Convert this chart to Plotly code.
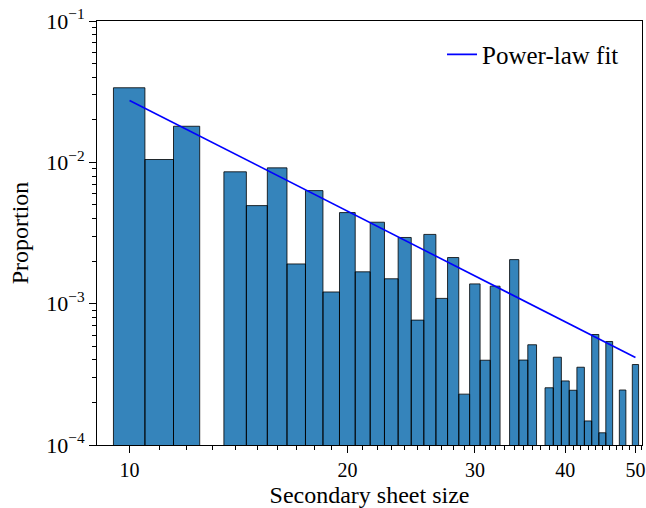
import plotly.graph_objects as go

# Histogram data (one bin per integer sheet size)
sizes = list(range(10, 51))
proportions = [
    0.0337, 0.01047, 0.0180, 0.0, 0.00857, 0.00494, 0.00914, 0.00191, 0.00631, 0.00121,
    0.00441, 0.00168, 0.00377, 0.00150, 0.00294, 0.000765, 0.00309, 0.00109, 0.00212, 0.000229,
    0.00138, 0.000398, 0.00133, 0.0, 0.00205, 0.000399, 0.000512, 0.0, 0.000254, 0.000418,
    0.000284, 0.000244, 0.000355, 0.000148, 0.000605, 0.000122, 0.000540, 0.0, 0.000245, 0.0,
    0.000371,
]

# Power-law fit endpoints
fit_x = [10, 50]
fit_y = [0.0274, 0.000416]

x_major = [10, 20, 30, 40, 50]
x_major_labels = ["10", "20", "30", "40", "50"]
y_major = [1e-4, 1e-3, 1e-2, 1e-1]
y_major_labels = ["10<sup>−4</sup>", "10<sup>−3</sup>", "10<sup>−2</sup>", "10<sup>−1</sup>"]

FONT = "Liberation Serif, DejaVu Serif, serif"
BAR_FILL = "rgba(31,119,180,0.9)"
BAR_EDGE = "rgba(0,0,0,0.8)"
FLOOR = 1e-6

# build bar polygons from bin edges (size +/- 0.5)
bx, by = [], []
for s, p in zip(sizes, proportions):
    if p <= 0:
        continue
    lo, hi = s - 0.5, s + 0.5
    bx += [lo, lo, hi, hi, lo, None]
    by += [FLOOR, p, p, FLOOR, FLOOR, None]

fig = go.Figure()
fig.add_trace(go.Scatter(
    x=bx, y=by, mode="lines", fill="toself", fillcolor=BAR_FILL,
    line=dict(color=BAR_EDGE, width=1), showlegend=False, hoverinfo="skip",
))
fig.add_trace(go.Scatter(
    x=fit_x, y=fit_y, mode="lines", name="Power-law fit",
    line=dict(color="#0000ff", width=1.6),
))

minor_x = [v for v in range(9, 52) if v not in x_major]
minor_y = [m * 10 ** e for e in (-4, -3, -2) for m in range(2, 10)]

fig.update_layout(
    width=646, height=508,
    margin=dict(l=97, r=4, t=21, b=63),
    paper_bgcolor="white", plot_bgcolor="white",
    font=dict(family=FONT, size=20, color="#000"),
    legend=dict(x=0.967, y=0.975, xanchor="right", yanchor="top",
                bgcolor="rgba(255,255,255,0)", font=dict(size=25)),
    xaxis=dict(
        type="log", range=[0.955, 1.708], automargin=False,
        tickmode="array", tickvals=x_major, ticktext=x_major_labels,
        ticks="outside", ticklen=7, tickwidth=1, tickcolor="#000",
        ticklabeloverflow="allow",
        minor=dict(tickmode="array", tickvals=minor_x, ticks="outside",
                   ticklen=4, tickwidth=1, tickcolor="#000", showgrid=False),
        showline=True, linecolor="#000", linewidth=1, mirror=True,
        showgrid=False, zeroline=False,
        title=dict(text="Secondary sheet size", font=dict(size=24), standoff=19),
        tickfont=dict(size=20),
    ),
    yaxis=dict(
        type="log", range=[-4, -1], automargin=False,
        tickmode="array", tickvals=y_major, ticktext=y_major_labels,
        ticks="outside", ticklen=7, tickwidth=1, tickcolor="#000",
        ticklabeloverflow="allow",
        minor=dict(tickmode="array", tickvals=minor_y, ticks="outside",
                   ticklen=4, tickwidth=1, tickcolor="#000", showgrid=False),
        showline=True, linecolor="#000", linewidth=1, mirror=True,
        showgrid=False, zeroline=False,
        title=dict(text="Proportion", font=dict(size=24), standoff=10),
        tickfont=dict(size=22),
    ),
)

# remove the browser's default 8px body margin so the figure fills the window
fig.write_html("out.html", config={"displayModeBar": False},
               post_script="document.body.style.margin='0';")
